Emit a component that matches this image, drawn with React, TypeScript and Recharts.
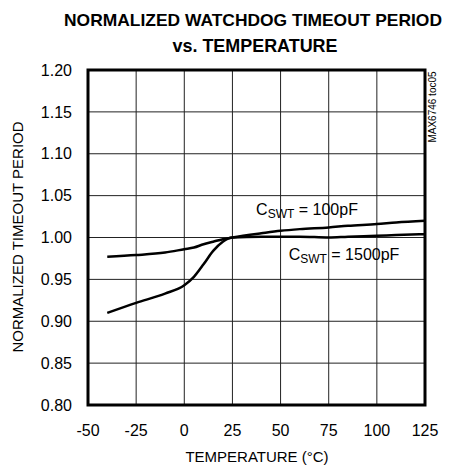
import { CartesianGrid, Line, LineChart, ReferenceArea, XAxis, YAxis } from "recharts";

// temperature (°C) and normalized timeout period
const temps = [-40, -25, -10, 0, 5, 10, 15, 20, 25, 40, 50, 60, 75, 85, 100, 110, 125];
const cswt100pF = [0.977, 0.979, 0.982, 0.986, 0.988, 0.992, 0.995, 0.998, 1.0, 1.005, 1.008, 1.01, 1.012, 1.014, 1.016, 1.018, 1.02];
const cswt1500pF = [0.91, 0.922, 0.933, 0.943, 0.953, 0.968, 0.984, 0.995, 1.0, 1.001, 1.001, 1.001, 1.0, 1.001, 1.002, 1.003, 1.004];

const xTicks = [-50, -25, 0, 25, 50, 75, 100, 125];
const yTicks = [0.8, 0.85, 0.9, 0.95, 1.0, 1.05, 1.1, 1.15, 1.2];

const data = temps.map((t, i) => ({ t, a: cswt100pF[i], b: cswt1500pF[i] }));

const FONT = "'Liberation Sans Narrow', 'Arial Narrow', 'Liberation Sans', Arial, sans-serif";

export default function App() {
  return (
    <div style={{ position: "fixed", left: 0, top: 0, width: 452, height: 471, background: "#fff", fontFamily: FONT }}>
      <LineChart width={452} height={471} data={data} margin={{ top: 70, right: 27, bottom: 0, left: 0 }}>
        <CartesianGrid stroke="#222" strokeWidth={1} />
        <XAxis
          dataKey="t"
          type="number"
          domain={[-50, 125]}
          ticks={xTicks}
          height={66}
          axisLine={false}
          tickLine={false}
          tickSize={8}
          tickMargin={12}
          tick={{ fill: "#000", fontSize: 16, fontFamily: FONT }}
        />
        <YAxis
          type="number"
          domain={[0.8, 1.2]}
          ticks={yTicks}
          width={88}
          axisLine={false}
          tickLine={false}
          tickSize={8}
          tickMargin={8}
          tickFormatter={(v: number) => v.toFixed(2)}
          tick={{ fill: "#000", fontSize: 16, fontFamily: FONT }}
        />
        <ReferenceArea x1={-50} x2={125} y1={0.8} y2={1.2} fill="none" stroke="#000" strokeWidth={3} />
        <Line dataKey="a" type="monotone" stroke="#000" strokeWidth={2.5} dot={false} isAnimationActive={false} />
        <Line dataKey="b" type="monotone" stroke="#000" strokeWidth={2.5} dot={false} isAnimationActive={false} />
      </LineChart>
      <svg width={452} height={471} style={{ position: "absolute", left: 0, top: 0, pointerEvents: "none" }}>
        <g fontFamily={FONT} fill="#000">
          <text x={253} y={26} textAnchor="middle" fontSize={17} fontWeight="bold" textLength={378} lengthAdjust="spacingAndGlyphs">
            NORMALIZED WATCHDOG TIMEOUT PERIOD
          </text>
          <text x={255} y={52} textAnchor="middle" fontSize={19} fontWeight="bold" textLength={165} lengthAdjust="spacingAndGlyphs">
            vs. TEMPERATURE
          </text>
          <text x={257} y={462} textAnchor="middle" fontSize={15}>
            TEMPERATURE (°C)
          </text>
          <text x={23} y={237} textAnchor="middle" fontSize={15} transform="rotate(-90 23 237)">
            NORMALIZED TIMEOUT PERIOD
          </text>
          <text x={436} y={107} textAnchor="middle" fontSize={10} transform="rotate(-90 436 107)">
            MAX6746 toc05
          </text>
          <text x={307} y={215} textAnchor="middle" fontSize={16}>
            C<tspan fontSize={12} dy={3}>SWT</tspan>
            <tspan dy={-3}> = 100pF</tspan>
          </text>
          <text x={344} y={260} textAnchor="middle" fontSize={16}>
            C<tspan fontSize={12} dy={3}>SWT</tspan>
            <tspan dy={-3}> = 1500pF</tspan>
          </text>
        </g>
      </svg>
    </div>
  );
}
